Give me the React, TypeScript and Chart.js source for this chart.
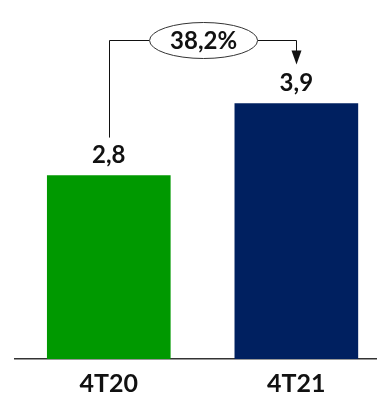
import React, { useEffect, useRef } from "react";
import { Chart, registerables } from "chart.js";

Chart.register(...registerables);

const categories = ["4T20", "4T21"];
const values = [2.8, 3.9];
const barColors = ["#009900", "#002060"];
const changeLabel = "38,2%";

const FONT = "Lato, 'Open Sans', sans-serif";

const annotPlugin = {
  id: "annot",
  afterDatasetsDraw(chart: any) {
    const ctx = chart.ctx as CanvasRenderingContext2D;
    const meta = chart.getDatasetMeta(0);
    const bars = meta.data;
    if (!bars || bars.length < 2) return;
    const b1 = bars[0];
    const b2 = bars[1];
    ctx.save();
    // value labels
    ctx.font = `bold 24px ${FONT}`;
    ctx.fillStyle = "#111";
    ctx.textAlign = "center";
    ctx.textBaseline = "alphabetic";
    bars.forEach((bar: any, i: number) => {
      ctx.fillText(values[i].toFixed(1).replace(".", ","), bar.x, bar.y - 13);
    });
    // bracket
    const yLine = Math.round(b2.y - 64) + 0.5;
    const x1 = Math.round(b1.x) + 0.5;
    const x2 = Math.round(b2.x) + 0.5;
    const cx = (b1.x + b2.x) / 2 + 1;
    const rx = 54;
    const ry = 18;
    const tipY = b2.y - 39;
    ctx.strokeStyle = "#111";
    ctx.lineWidth = 1;
    ctx.beginPath();
    ctx.moveTo(x1, b1.y - 38);
    ctx.lineTo(x1, yLine);
    ctx.lineTo(cx - rx, yLine);
    ctx.moveTo(cx + rx, yLine);
    ctx.lineTo(x2, yLine);
    ctx.lineTo(x2, tipY - 12);
    ctx.stroke();
    ctx.fillStyle = "#111";
    ctx.beginPath();
    ctx.moveTo(x2 - 5, tipY - 14);
    ctx.lineTo(x2 + 5, tipY - 14);
    ctx.lineTo(x2, tipY);
    ctx.closePath();
    ctx.fill();
    // ellipse
    ctx.beginPath();
    ctx.ellipse(cx, yLine, rx, ry, 0, 0, Math.PI * 2);
    ctx.fillStyle = "#fff";
    ctx.fill();
    ctx.strokeStyle = "#333";
    ctx.stroke();
    ctx.fillStyle = "#111";
    ctx.font = `bold 24px ${FONT}`;
    ctx.textBaseline = "middle";
    ctx.fillText(changeLabel, cx, yLine + 1);
    ctx.restore();
  },
};

export default function App() {
  const ref = useRef<HTMLCanvasElement>(null);
  useEffect(() => {
    if (!ref.current) return;
    const chart = new Chart(ref.current, {
      type: "bar",
      data: {
        datasets: [
          {
            data: values.map((v, i) => ({ x: i, y: v })) as any,
            backgroundColor: barColors,
            barThickness: 123,
            borderWidth: 0,
          },
        ],
      },
      options: {
        responsive: false,
        animation: false,
        layout: { padding: { left: 15, right: 0, top: 0, bottom: -14 } },
        plugins: { legend: { display: false }, tooltip: { enabled: false } },
        scales: {
          x: {
            type: "linear",
            offset: false,
            min: -0.5,
            max: 1.43,
            grid: { display: false, drawTicks: false, offset: false },
            border: { display: true, color: "#333", width: 1.5 },
            afterBuildTicks: (axis: any) => {
              axis.ticks = categories.map((_, i) => ({ value: i }));
            },
            ticks: {
              autoSkip: false,
              maxRotation: 0,
              padding: 12,
              color: "#111",
              font: { family: FONT, size: 25, weight: "bold", lineHeight: 1 },
              callback: (v: any) => categories[v as number] ?? "",
            },
          },
          y: {
            display: false,
            min: 0,
            max: 5.48,
          },
        },
      },
      plugins: [annotPlugin],
    });
    return () => chart.destroy();
  }, []);
  return (
    <div style={{ position: "absolute", left: 0, top: 0, width: 377, height: 394, background: "#fff" }}>
      <canvas ref={ref} width={377} height={394} style={{ display: "block" }} />
    </div>
  );
}
